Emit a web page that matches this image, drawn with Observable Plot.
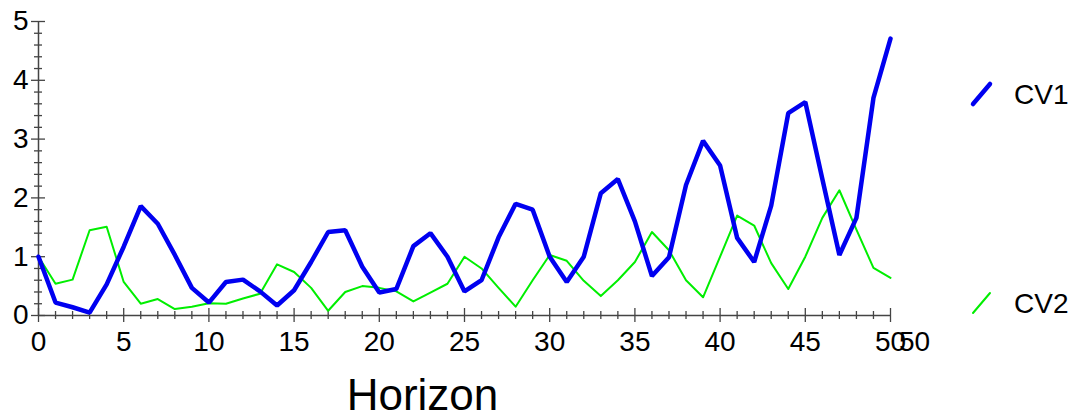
<!DOCTYPE html>
<html>
<head>
<meta charset="utf-8">
<script src="https://cdn.jsdelivr.net/npm/d3@7"></script>
<script src="https://cdn.jsdelivr.net/npm/@observablehq/plot@0.6"></script>
<style>
  html, body { margin: 0; padding: 0; background: #fff; }
  #wrap { position: relative; width: 1078px; height: 418px; overflow: hidden; }
  #legend { position: absolute; left: 0; top: 0; pointer-events: none; }
</style>
</head>
<body>
<div id="wrap"></div>
<script>
const horizon = [0,1,2,3,4,5,6,7,8,9,10,11,12,13,14,15,16,17,18,19,20,21,22,23,24,25,26,27,28,29,30,31,32,33,34,35,36,37,38,39,40,41,42,43,44,45,46,47,48,49,50];
const cv1 = [1.0,0.22,0.14,0.05,0.53,1.17,1.86,1.56,1.03,0.47,0.22,0.57,0.61,0.41,0.17,0.43,0.91,1.42,1.45,0.83,0.39,0.45,1.18,1.40,1.0,0.41,0.60,1.33,1.90,1.80,1.0,0.57,1.0,2.08,2.32,1.60,0.67,0.99,2.22,2.97,2.55,1.32,0.91,1.87,3.44,3.63,2.32,1.03,1.66,3.70,4.71];
const cv2 = [1.0,0.54,0.61,1.45,1.51,0.57,0.20,0.28,0.11,0.15,0.21,0.20,0.29,0.37,0.87,0.74,0.47,0.08,0.40,0.50,0.47,0.41,0.24,0.39,0.54,1.0,0.80,0.47,0.15,0.60,1.03,0.93,0.59,0.33,0.60,0.91,1.42,1.11,0.60,0.31,1.0,1.70,1.53,0.89,0.45,1.0,1.66,2.13,1.46,0.81,0.64];
const seriesNames = ["CV1", "CV2"];
const xMajor = [0,5,10,15,20,25,30,35,40,45,50];
const xMinor = horizon.filter(d => d % 5 !== 0);
const yMajor = [0,1,2,3,4,5];
const yMinor = [0.2,0.4,0.6,0.8,1.2,1.4,1.6,1.8,2.2,2.4,2.6,2.8,3.2,3.4,3.6,3.8,4.2,4.4,4.6,4.8];
const extraLabel = ["50"];
const xTitle = "Horizon";

const FONT = "Liberation Sans, Arial, Helvetica, sans-serif";
const AXIS = "#444";
const BLUE = "#0000f0";
const GREEN = "#00ee00";

const rows1 = horizon.map((h, i) => ({h, v: cv1[i]}));
const rows2 = horizon.map((h, i) => ({h, v: cv2[i]}));

const plot = Plot.plot({
  width: 1078,
  height: 418,
  marginLeft: 38,
  marginRight: 188,
  marginTop: 21,
  marginBottom: 103,
  style: {fontFamily: FONT, background: "#fff", overflow: "visible"},
  x: {domain: [0, 50], label: null},
  y: {domain: [0, 5], label: null},
  marks: [
    // x ticks
    Plot.axisX({ticks: xMinor, tickSize: 8, dy: -4, tickFormat: () => "", label: null, stroke: AXIS, strokeWidth: 1.3}),
    Plot.axisX({ticks: xMajor, tickSize: 14, dy: -7, tickFormat: () => "", label: null, stroke: AXIS, strokeWidth: 1.3}),
    Plot.axisX({ticks: xMajor, tickSize: 0, tickPadding: 16, fontSize: 28, label: null, fill: "#000", tickFormat: d => String(d)}),
    // y ticks
    Plot.axisY({ticks: yMinor, tickSize: 8, dx: 4, tickFormat: () => "", label: null, stroke: AXIS, strokeWidth: 1.3}),
    Plot.axisY({ticks: yMajor, tickSize: 14, dx: 7, tickFormat: () => "", label: null, stroke: AXIS, strokeWidth: 1.3}),
    Plot.axisY({ticks: yMajor, tickSize: 0, tickPadding: 10, fontSize: 28, label: null, fill: "#000", tickFormat: d => String(d)}),
    // axis lines
    Plot.ruleY([0], {stroke: AXIS, strokeWidth: 1.5}),
    Plot.ruleX([0], {stroke: AXIS, strokeWidth: 1.5}),
    // extra overlapping tick label
    Plot.text(extraLabel, {x: () => 50, y: () => 0, text: d => d, dx: 24, dy: 16, lineAnchor: "top", fontSize: 28, fill: "#000"}),
    // series
    Plot.line(rows2, {x: "h", y: "v", stroke: GREEN, strokeWidth: 2}),
    Plot.line(rows1, {x: "h", y: "v", stroke: BLUE, strokeWidth: 4.5, strokeLinejoin: "miter"}),
    // x title
    Plot.text([xTitle], {frameAnchor: "bottom", text: d => d, dx: -42, dy: 80, lineAnchor: "middle", fontSize: 44, fill: "#000"})
  ]
});
document.getElementById("wrap").appendChild(plot);

// legend
const lg = d3.select("#wrap").append("svg")
  .attr("id", "legend").attr("width", 1078).attr("height", 418)
  .style("font-family", FONT);
const legendItems = [
  {name: seriesNames[0], color: BLUE, w: 4.5, y: 94},
  {name: seriesNames[1], color: GREEN, w: 2, y: 303}
];
for (const it of legendItems) {
  lg.append("line")
    .attr("x1", 973).attr("y1", it.y + 10).attr("x2", 990).attr("y2", it.y - 10)
    .attr("stroke", it.color).attr("stroke-width", it.w).attr("stroke-linecap", "round");
  lg.append("text")
    .attr("x", 1014).attr("y", it.y).attr("dy", "0.36em")
    .attr("font-size", 28).attr("fill", "#000").text(it.name);
}
</script>
</body>
</html>
